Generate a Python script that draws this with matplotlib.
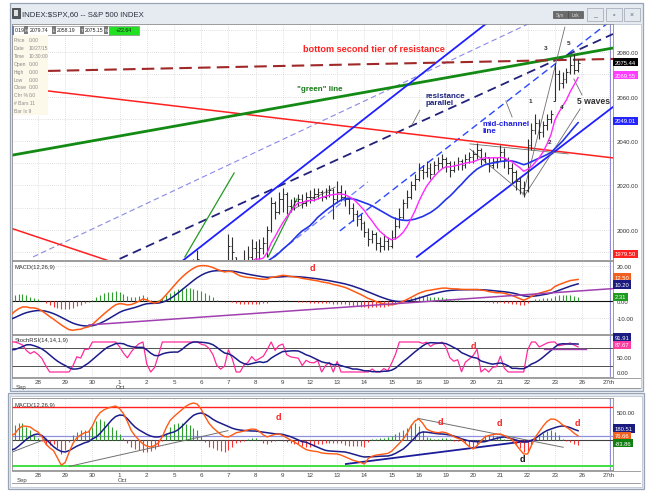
import numpy as np
import pandas as pd
import matplotlib
matplotlib.use("Agg")
import matplotlib.pyplot as plt
from matplotlib.patches import Rectangle
import matplotlib.transforms as mtrans

plt.rcParams['font.family'] = ['Liberation Sans', 'DejaVu Sans']

# ---------------- data ----------------
day_labels = ['28', '29', '30', '1', '2', '5', '6', '7', '8', '9', '12', '13', '14',
              '15', '16', '19', '20', '21', '22', '23', '26', '27th']

# hourly closes of the days before the visible window (indicator warm-up)
warmup_close = [
    [1985, 1978, 1972, 1968, 1962, 1960, 1958],
    [1965, 1972, 1975, 1970, 1965, 1968, 1967],
    [1945, 1940, 1935, 1938, 1942, 1940, 1943],
    [1945, 1942, 1938, 1940, 1937, 1935, 1939],
    [1920, 1915, 1910, 1915, 1925, 1930, 1932],
]

# visible hourly bars, Sep 25 .. Oct 23 (7 bars per day)
close_days = [
    [1945, 1950, 1948, 1945, 1935, 1928, 1931],
    [1925, 1915, 1905, 1900, 1895, 1888, 1882],
    [1878, 1874, 1880, 1886, 1882, 1889, 1884],
    [1895, 1905, 1908, 1912, 1915, 1918, 1920],
    [1912, 1903, 1898, 1906, 1914, 1919, 1924],
    [1905, 1896, 1900, 1912, 1930, 1942, 1951],
    [1960, 1966, 1972, 1977, 1981, 1985, 1987],
    [1984, 1983, 1981, 1979, 1976, 1978, 1980],
    [1993, 1990, 1980, 1978, 1985, 1988, 1992],
    [1990, 1992, 1994, 2000, 2012, 2008, 2014],
    [2016, 2011, 2010, 2013, 2014, 2012, 2015],
    [2015, 2016, 2017, 2015, 2017, 2018, 2014],
    [2017, 2015, 2014, 2010, 2007, 2005, 2003],
    [1999, 1996, 1998, 1994, 1993, 1995, 1993],
    [1997, 2002, 2006, 2012, 2015, 2020, 2023],
    [2027, 2026, 2028, 2025, 2029, 2030, 2032],
    [2030, 2027, 2029, 2031, 2029, 2032, 2033],
    [2034, 2036, 2032, 2033, 2029, 2031, 2031],
    [2035, 2032, 2028, 2026, 2022, 2019, 2018],
    [2038, 2045, 2048, 2044, 2047, 2050, 2052],
    [2070, 2066, 2068, 2071, 2074, 2072, 2075],
]
high_days = [
    [1952, 1953, 1951, 1949, 1946, 1936, 1933],
    [1931, 1927, 1916, 1907, 1902, 1897, 1890],
    [1886, 1881, 1882, 1888, 1888, 1891, 1890],
    [1898, 1907, 1910, 1914, 1917, 1919, 1921],
    [1927, 1914, 1906, 1908, 1916, 1921, 1925],
    [1921, 1907, 1903, 1914, 1932, 1944, 1952],
    [1962, 1968, 1974, 1979, 1983, 1987, 1991],
    [1986, 1985, 1984, 1982, 1980, 1980, 1983],
    [1998, 1997, 1988, 1982, 1991, 1993, 1996],
    [1995, 1996, 1997, 2002, 2015, 2013, 2017],
    [2019, 2017, 2014, 2015, 2016, 2016, 2017],
    [2018, 2019, 2019, 2018, 2019, 2020, 2019],
    [2022, 2020, 2018, 2015, 2012, 2009, 2007],
    [2004, 2001, 2000, 1999, 1997, 1998, 1997],
    [2000, 2006, 2010, 2014, 2018, 2022, 2025],
    [2030, 2029, 2031, 2030, 2031, 2033, 2034],
    [2033, 2031, 2031, 2033, 2032, 2034, 2035],
    [2036, 2039, 2037, 2035, 2033, 2033, 2033],
    [2038, 2037, 2033, 2030, 2027, 2024, 2022],
    [2041, 2048, 2052, 2050, 2049, 2052, 2054],
    [2075, 2072, 2071, 2073, 2078, 2079, 2077],
]
low_days = [
    [1932, 1944, 1945, 1941, 1933, 1926, 1927],
    [1922, 1912, 1903, 1897, 1892, 1885, 1880],
    [1876, 1871, 1873, 1879, 1880, 1881, 1882],
    [1886, 1894, 1903, 1906, 1911, 1913, 1916],
    [1910, 1900, 1893, 1897, 1905, 1912, 1917],
    [1899, 1893, 1894, 1899, 1911, 1929, 1940],
    [1952, 1958, 1964, 1970, 1975, 1979, 1983],
    [1980, 1979, 1978, 1977, 1972, 1974, 1976],
    [1980, 1984, 1976, 1975, 1977, 1983, 1985],
    [1985, 1987, 1989, 1988, 1999, 2005, 2007],
    [2008, 2007, 2008, 2009, 2011, 2010, 2011],
    [2012, 2013, 2014, 2013, 2014, 2015, 2005],
    [2012, 2013, 2011, 2007, 2004, 2002, 2000],
    [1997, 1993, 1994, 1991, 1990, 1991, 1991],
    [1992, 1996, 2001, 2005, 2010, 2014, 2018],
    [2022, 2023, 2024, 2023, 2025, 2027, 2028],
    [2026, 2024, 2026, 2027, 2027, 2028, 2030],
    [2030, 2032, 2029, 2030, 2026, 2028, 2028],
    [2031, 2028, 2025, 2021, 2018, 2016, 2015],
    [2017, 2036, 2043, 2041, 2042, 2045, 2048],
    [2058, 2063, 2064, 2066, 2070, 2070, 2071],
]

# lower window: MACD(12,26,9) of a second series, read per hourly bar
bm_macd_days = [
    [80, 107, 200, 250, 245, 232, 180],
    [143, 60, -71, -140, -190, -320, -450],
    [-400, -220, -60, 40, 90, 130, 143],
    [250, 400, 490, 540, 570, 590, 607],
    [560, 470, 330, 170, 71, 0, -70],
    [-110, -125, -100, -50, 60, 220, 350],
    [420, 480, 540, 600, 640, 661, 640],
    [550, 420, 300, 220, 160, 100, 60],
    [54, 90, 130, 143, 160, 180, 196],
    [190, 150, 90, 54, 80, 100, 107],
    [80, 40, 0, -36, -80, -130, -170],
    [-190, -200, -210, -232, -240, -245, -248],
    [-250, -270, -300, -330, -360, -380, -400],
    [-430, -330, -290, -270, -260, -250, -240],
    [-200, -130, -60, 18, 120, 250, 340],
    [375, 300, 196, 160, 140, 130, 143],
    [130, 100, 60, 30, 10, -60, -120],
    [-161, -100, -20, 54, 80, 95, 107],
    [107, 80, 40, 10, -80, -170, -250],
    [-250, -100, 54, 150, 250, 330, 375],
    [370, 330, 270, 230, 180, 120, 71],
]
bm_signal_days = [
    [-180, -161, -110, -50, 10, 60, 95],
    [107, 80, 18, -50, -120, -170, -205],
    [-214, -190, -150, -110, -80, -50, -30],
    [20, 54, 120, 200, 280, 360, 420],
    [446, 440, 380, 300, 230, 180, 140],
    [100, 70, 54, 54, 70, 100, 125],
    [143, 180, 240, 310, 380, 440, 470],
    [482, 460, 420, 370, 330, 300, 270],
    [240, 210, 190, 178, 170, 165, 161],
    [160, 150, 140, 130, 120, 110, 107],
    [100, 80, 60, 30, 0, -30, -40],
    [-70, -100, -130, -160, -185, -196, -200],
    [-205, -210, -214, -230, -250, -270, -290],
    [-304, -300, -300, -295, -290, -288, -286],
    [-270, -240, -200, -161, -100, -30, 40],
    [120, 143, 140, 130, 120, 110, 107],
    [100, 90, 70, 50, 20, 0, -18],
    [-25, -30, -36, -30, -10, 10, 30],
    [45, 54, 40, 20, 0, -20, -36],
    [-36, -10, 30, 80, 130, 170, 196],
    [220, 240, 250, 240, 220, 190, 165],
]

# last-value tags shown on the right scales
main_tags = [(2075.44, '2075.44', 'black'), (2069.55, '2069.55', '#ff3cff'),
             (2049.01, '2049.01', '#2424ff'), (1979.50, '1979.50', '#ff2020')]
macd_tags = [(12.50, '12.50', '#f06020'), (10.20, '10.20', '#1c1c80'), (2.31, '2.31', '#1e9a1e')]
stoch_tags = [(91.91, '91.91', '#1c1c80'), (87.67, '87.67', '#ff3ca0')]
bm_tags = [(180.51, '180.51', '#1c1c80'), (76.66, '76.66', '#f06020'), (-83.86, '-83.86', '#108010')]

# hand-drawn trend lines: (day1, value1, day2, value2)
main_lines = {
    'brown_dash': (1.37, 2071.5, 22.14, 2076.9),
    'red': (1.37, 2062.5, 22.14, 2032.4),
    'red_low': (0.08, 2000.5, 3.90, 1984.9),
    'green': (0.08, 2033.7, 22.14, 2081.8),
    'green_thin1': (6.40, 1987.9, 8.21, 2025.6),
    'green_thin2': (9.46, 1987.9, 10.52, 2013.9),
    'lav_dash': (0.82, 1987.9, 21.0, 2104.0),
    'blue1': (6.30, 1986.0, 17.69, 2094.8),
    'navy_dash': (4.0, 1987.0, 22.14, 2088.1),
    'blue_dash_light': (9.64, 1987.9, 13.13, 2021.6),
    'mid_channel': (12.1, 1999.6, 22.0, 2093.5),
    'blue_low': (14.93, 1987.9, 22.14, 2055.3),
    'gray_a': (16.88, 2038.7, 20.49, 2034.2),
    'gray_b': (16.88, 2036.4, 18.90, 2015.7),
    'gray_c': (18.83, 2015.7, 20.37, 2091.2),
    'gray_d': (18.90, 2015.7, 20.93, 2054.4),
    'gray_e': (10.26, 2008.5, 11.92, 2019.3),
    'ptr_res': (15.04, 2053.9, 14.75, 2047.2),
    'ptr_mid': (18.43, 2050.8, 18.20, 2058.0),
    'ptr_wave': (21.00, 2060.7, 20.70, 2067.9),
}
macd_line = (2.875, -13.7, 22.14, 7.1)
stoch_line = (19.6, 76.7, 21.15, 76.7)
bm_lines = {
    'gray1': (0.08, -209, 1.29, 18),
    'gray2': (2.16, -470, 7.98, 166),
    'gray3': (14.96, 387, 20.31, -130),
    'navy': (12.32, -429, 19.30, 0),
}

# ---------------- derived series ----------------
n_warm = len(warmup_close)
closes_all = np.array([v for d in warmup_close + close_days for v in d], dtype=float)
x_all = np.arange(len(closes_all)) / 7.0 - n_warm
close = np.array([v for d in close_days for v in d], dtype=float)
high = np.array([v for d in high_days for v in d], dtype=float)
low = np.array([v for d in low_days for v in d], dtype=float)
xv = np.arange(len(close)) / 7.0
prev = np.concatenate([[warmup_close[-1][-1]], close[:-1]])
opn = np.clip(prev, low, high)

s = pd.Series(closes_all)
ma_fast = s.rolling(8).mean().values
ma_slow = s.rolling(20).mean().values
ema12 = s.ewm(span=12, adjust=False).mean()
ema26 = s.ewm(span=26, adjust=False).mean()
macd = (ema12 - ema26)
sig = macd.ewm(span=9, adjust=False).mean()
hist = (macd - sig).values
macd = macd.values
sig = sig.values

delta = s.diff()
gain = delta.clip(lower=0)
loss = -delta.clip(upper=0)
ag = gain.ewm(alpha=1 / 14, adjust=False).mean()
al = loss.ewm(alpha=1 / 14, adjust=False).mean()
rsi = 100 - 100 / (1 + ag / al)
rlo = rsi.rolling(14).min()
rhi = rsi.rolling(14).max()
stk = ((rsi - rlo) / (rhi - rlo) * 100).clip(0, 100)
std = stk.rolling(9).mean()

bm_macd = np.array([v for d in bm_macd_days for v in d], dtype=float)
bm_sig = np.array([v for d in bm_signal_days for v in d], dtype=float)
bm_hist = bm_macd - bm_sig

# ---------------- layout ----------------
W, H = 655, 502
fig = plt.figure(figsize=(W / 100, H / 100), dpi=100)
fig.patch.set_facecolor('white')


def rect(x0, y0, x1, y1):
    return [x0 / W, 1 - y1 / H, (x1 - x0) / W, (y1 - y0) / H]


ax_bg = fig.add_axes([0, 0, 1, 1], zorder=0)
ax_bg.set_xlim(0, W)
ax_bg.set_ylim(H, 0)
ax_bg.axis('off')
ax_bg.add_patch(Rectangle((9.5, 3.5), 633, 388, fc='#e6ebf1', ec='#98a4b6', lw=0.9))
ax_bg.add_patch(Rectangle((11.5, 25), 629, 364, fc='white', ec='#b4bcc8', lw=0.5))
ax_bg.add_patch(Rectangle((7.5, 393.5), 636, 96, fc='#e6ebf1', ec='#98a4b6', lw=0.9))
ax_bg.add_patch(Rectangle((9.5, 397), 632, 91, fc='white', ec='#b4bcc8', lw=0.5))
ax_bg.plot([12, 640], [378.5, 378.5], color='#909090', lw=0.6)
ax_bg.plot([12, 640], [389, 389], color='#909090', lw=0.6)
ax_bg.plot([12, 640], [471.5, 471.5], color='#909090', lw=0.6)
ax_bg.plot([12, 640], [484, 484], color='#909090', lw=0.6)
ax_bg.text(16, 387.5, 'Sep', fontsize=4.3, color='#404040', va='center')
ax_bg.text(116, 387.5, 'Oct', fontsize=4.3, color='#404040', va='center')
ax_bg.text(17, 481, 'Sep', fontsize=4.3, color='#404040', va='center')
ax_bg.text(118, 481, 'Oct', fontsize=4.3, color='#404040', va='center')

XLO, XHI = 0.044, 22.14
GRID = dict(color='#c4c4c4', lw=0.5, ls=(0, (1, 2)), zorder=0)


def setup(ax, ylo, yhi, ticks, show_x=False):
    ax.set_xlim(XLO, XHI)
    ax.set_ylim(ylo, yhi)
    ax.set_facecolor('white')
    for sp in ax.spines.values():
        sp.set_color('#8c8c8c')
        sp.set_linewidth(0.6)
    ax.set_xticks(range(1, 23))
    ax.set_xticklabels(day_labels)
    for d in range(1, 23):
        ax.axvline(d, **GRID)
    ax.axvline(22.02, color='#8c8cd8', lw=0.7, zorder=1)
    ax.yaxis.tick_right()
    ax.set_yticks(ticks)
    ax.set_yticklabels([f'{t:.2f}' for t in ticks])
    ax.tick_params(axis='y', length=0, labelsize=4.3, pad=2.5, colors='#303030')
    ax.tick_params(axis='x', length=0, labelsize=4.5, pad=1.5, colors='#404040',
                   labelbottom=show_x)


def tag(ax, y, txt, bg):
    tr = mtrans.blended_transform_factory(ax.transAxes, ax.transData)
    ax.text(1.003, y, txt, transform=tr, fontsize=4.2, color='white', va='center', ha='left',
            bbox=dict(boxstyle='square,pad=0.28', fc=bg, ec='none'), clip_on=False, zorder=30)


def tline(ax, seg, **kw):
    ax.plot([seg[0], seg[2]], [seg[1], seg[3]], **kw)


# ---------- main price panel ----------
ax = fig.add_axes(rect(12, 25, 613, 261), zorder=2)
setup(ax, 1986.5, 2092.6, [2000, 2020, 2040, 2060, 2080])
for yv in range(1990, 2092, 10):
    ax.axhline(yv, **GRID)

ML = main_lines
tline(ax, ML['lav_dash'], color='#8a8ae6', lw=0.8, ls=(0, (5, 3)))
tline(ax, ML['blue_dash_light'], color='#6a7cff', lw=0.9, ls=(0, (5, 3)))
tline(ax, ML['mid_channel'], color='#2a48ff', lw=1.0, ls=(0, (5, 3)))
tline(ax, ML['navy_dash'], color='#22227a', lw=1.3, ls=(0, (5, 3)))
tline(ax, ML['red'], color='#ff2020', lw=1.1)
tline(ax, ML['red_low'], color='#ff2020', lw=1.1)
tline(ax, ML['green'], color='#138a13', lw=2.0)
tline(ax, ML['green_thin1'], color='#239a23', lw=0.9)
tline(ax, ML['green_thin2'], color='#239a23', lw=0.9)
tline(ax, ML['blue1'], color='#1f1fff', lw=1.3)
tline(ax, ML['blue_low'], color='#1f1fff', lw=1.3)
tline(ax, ML['brown_dash'], color='#a02828', lw=1.5, ls=(0, (6, 3)))
for k in ['gray_a', 'gray_b', 'gray_c', 'gray_d', 'gray_e', 'ptr_res', 'ptr_mid', 'ptr_wave']:
    tline(ax, ML[k], color='#6e6e6e', lw=0.6)

ax.vlines(xv, low, high, color='#303030', lw=0.8, zorder=4)
ax.hlines(close, xv, xv + 0.06, color='#303030', lw=0.7, zorder=4)
ax.hlines(opn, xv - 0.06, xv, color='#303030', lw=0.7, zorder=4)
ax.plot(x_all, ma_slow, color='#2434e8', lw=1.2, zorder=5)
ax.plot(x_all, ma_fast, color='#ff28ff', lw=1.0, zorder=5)

NARROW = ['Liberation Sans Narrow', 'Liberation Sans', 'DejaVu Sans']
ax.text(13.36, 2081.8, 'bottom second tier of resistance', color='#ff2020', fontsize=6.6,
        fontweight='bold', family=NARROW, ha='center', va='center', zorder=8)
ax.text(11.37, 2063.8, '"green" line', color='#1a7a1a', fontsize=5.8, fontweight='bold',
        family=NARROW, ha='center', va='center', zorder=8)
ax.text(15.23, 2058.9, 'resistance\nparallel', color='#1e237e', fontsize=5.8, fontweight='bold',
        family=NARROW, ha='left', va='center', linespacing=1.15, zorder=8)
ax.text(17.36, 2046.3, 'mid-channel\nline', color='#2020e0', fontsize=5.8, fontweight='bold',
        family=NARROW, ha='left', va='center', linespacing=1.15, zorder=8)
ax.text(20.82, 2058.0, '5 waves', color='#303030', fontsize=6.2, fontweight='bold',
        family=NARROW, ha='left', va='center', zorder=8)
for (dx, py, t) in [(19.09, 2058.0, '1'), (19.68, 2082.2, '3'), (20.52, 2084.5, '5'),
                    (20.26, 2055.7, '4'), (19.79, 2039.6, '2')]:
    ax.text(dx, py, t, color='#303030', fontsize=4.6, fontweight='bold', ha='center',
            va='center', zorder=8)
for (v, t, c) in main_tags:
    tag(ax, max(v, 1989.3), t, c)

# ---------- MACD panel ----------
ax2 = fig.add_axes(rect(12, 262, 613, 335), zorder=2)
setup(ax2, -18.9, 22.9, [20, 0, -10])
for yv in [20, 10, -10]:
    ax2.axhline(yv, **GRID)
ax2.axhline(0, color='#101010', lw=0.8, zorder=2)
ax2.vlines(x_all, 0, hist, colors=np.where(hist >= 0, '#2e9e2e', '#ff3030'), lw=0.8, zorder=3)
ax2.plot(x_all, sig, color='#1c1c8a', lw=1.1, zorder=5)
ax2.plot(x_all, macd, color='#ff5a14', lw=1.1, zorder=5)
tline(ax2, macd_line, color='#a040b0', lw=1.1, zorder=6)
ax2.text(0.004, 0.96, 'MACD(12,26,9)', transform=ax2.transAxes, fontsize=4.2, color='#303030',
         va='top')
ax2.text(11.07, 18.9, 'd', color='#ff2020', fontsize=6.5, fontweight='bold', ha='center',
         va='center')
tag(ax2, 13.6, macd_tags[0][1], macd_tags[0][2])
tag(ax2, 9.4, macd_tags[1][1], macd_tags[1][2])
tag(ax2, macd_tags[2][0], macd_tags[2][1], macd_tags[2][2])

# ---------- StochRSI panel ----------
ax3 = fig.add_axes(rect(12, 336, 613, 378), zorder=2)
setup(ax3, -16.7, 123.3, [50, 0], show_x=True)
ax3.axhline(80, color='#505050', lw=0.7)
ax3.axhline(20, color='#505050', lw=0.7)
ax3.plot(x_all, stk.values, color='#ff2a9a', lw=0.9, zorder=4)
ax3.plot(x_all, std.values, color='#1c1c8a', lw=1.1, zorder=5)
tline(ax3, stoch_line, color='#a040b0', lw=1.0, zorder=6)
ax3.text(0.004, 0.95, 'StochRSI(14,14,1,9)', transform=ax3.transAxes, fontsize=4.2,
         color='#303030', va='top')
ax3.text(17.0, 86.7, 'd', color='#ff2020', fontsize=6.5, fontweight='bold', ha='center',
         va='center')
tag(ax3, 115, stoch_tags[0][1], stoch_tags[0][2])
tag(ax3, 91, stoch_tags[1][1], stoch_tags[1][2])

# ---------- lower window MACD ----------
ax4 = fig.add_axes(rect(12, 399, 613, 471), zorder=2)
setup(ax4, -536, 750, [500], show_x=True)
ax4.axhline(590, color='#ff2020', lw=1.0)
ax4.axhline(-464, color='#40e040', lw=1.4)
ax4.axhline(70, color='#9090e0', lw=0.9)
ax4.axhline(0, color='#404040', lw=0.8)
ax4.vlines(xv, 0, bm_hist, colors=np.where(bm_hist >= 0, '#2e9e2e', '#ff3030'), lw=0.8, zorder=3)
tline(ax4, bm_lines['gray1'], color='#707070', lw=0.7)
tline(ax4, bm_lines['gray2'], color='#707070', lw=0.7)
tline(ax4, bm_lines['gray3'], color='#707070', lw=0.7)
tline(ax4, bm_lines['navy'], color='#1c1c9a', lw=1.3)
ax4.plot(xv, bm_sig, color='#1c1c8a', lw=1.1, zorder=5)
ax4.plot(xv, bm_macd, color='#ff5a14', lw=1.0, zorder=5)
ax4.text(0.004, 0.95, 'MACD(12,26,9)', transform=ax4.transAxes, fontsize=4.2, color='#303030',
         va='top')
for (dx, v, c) in [(9.82, 428, '#ff2020'), (15.78, 339, '#ff2020'), (17.95, 321, '#ff2020'),
                   (20.82, 304, '#ff2020'), (18.79, -339, '#101010')]:
    ax4.text(dx, v, 'd', color=c, fontsize=6.5, fontweight='bold', ha='center', va='center')
tag(ax4, 205, bm_tags[0][1], bm_tags[0][2])
tag(ax4, 76.66, bm_tags[1][1], bm_tags[1][2])
tag(ax4, -60, bm_tags[2][1], bm_tags[2][2])

# ---------- overlay: title bar, header strip, info box ----------
ov = fig.add_axes([0, 0, 1, 1], zorder=20)
ov.set_xlim(0, W)
ov.set_ylim(H, 0)
ov.axis('off')
ov.patch.set_alpha(0)
ov.add_patch(Rectangle((12, 9), 8, 10, fc='#505860', ec='#303030', lw=0.5))
ov.add_patch(Rectangle((14, 11), 4, 6, fc='#e0e0e0', ec='none'))
ov.text(22, 14.5, 'INDEX:$SPX,60 -- S&P 500 INDEX', fontsize=5.6, color='#2a3040', va='center')
for (bx, t) in [(553, 'Syn'), (568, 'Lnk')]:
    ov.add_patch(Rectangle((bx, 12), 14.5, 7, fc='#6a6a6a', ec='#404040', lw=0.4))
    ov.text(bx + 7.2, 15.6, t, fontsize=3.4, color='#d8d8d8', ha='center', va='center')
for (bx, t) in [(587, '_'), (606, '▫'), (624, '×')]:
    ov.add_patch(Rectangle((bx, 9), 16, 13, fc='#e4e9ef', ec='#a8b0bc', lw=0.6))
    ov.text(bx + 8, 15, t, fontsize=5, color='#606870', ha='center', va='center')

# header strip
ov.add_patch(Rectangle((12, 26.5), 97, 9, fc='white', ec='#909090', lw=0.5))
ov.add_patch(Rectangle((12, 26.5), 2, 9, fc='#6d7fa0', ec='none'))
ov.add_patch(Rectangle((109, 26.5), 30, 9, fc='#22e022', ec='#909090', lw=0.5))
for (hx, t) in [(14.5, '0.19'), (29.5, '2079.74'), (57, '2058.19'), (85, '2075.15')]:
    ov.text(hx, 31, t, fontsize=3.7, color='#202020', va='center')
for (hx, t) in [(24.5, 'H'), (52.5, 'L'), (80.5, 'T'), (104.5, 'N')]:
    ov.add_patch(Rectangle((hx - 0.5, 27), 4, 8, fc='#7a7a7a', ec='none'))
    ov.text(hx + 1.5, 31, t, fontsize=3.2, color='white', va='center', ha='center')
ov.text(124, 31, '+22.64', fontsize=3.8, color='#202020', va='center', ha='center')

# info box
ov.add_patch(Rectangle((12.5, 36), 35, 80, fc='#fdf9ea', ec='none'))
info = [('Price', '0.00'), ('Date', '10/27/15'), ('Time', '10:30:00'), ('Open', '0.00'),
        ('High', '0.00'), ('Low', '0.00'), ('Close', '0.00'), ('Chr %', '0.0'),
        ('# Bars', '11'), ('Bar Ix', '9')]
for i, (a, b) in enumerate(info):
    yy = 40.5 + 7.9 * i
    if i < 8:
        ov.text(14, yy, a, fontsize=3.6, color='#8a8a8a', va='center')
        ov.text(29, yy, b, fontsize=3.6, color='#8a8a8a', va='center')
    else:
        ov.text(14, yy, f'{a} {b}', fontsize=3.6, color='#8a8a8a', va='center')

fig.savefig('out.png', dpi=100, facecolor='white')
